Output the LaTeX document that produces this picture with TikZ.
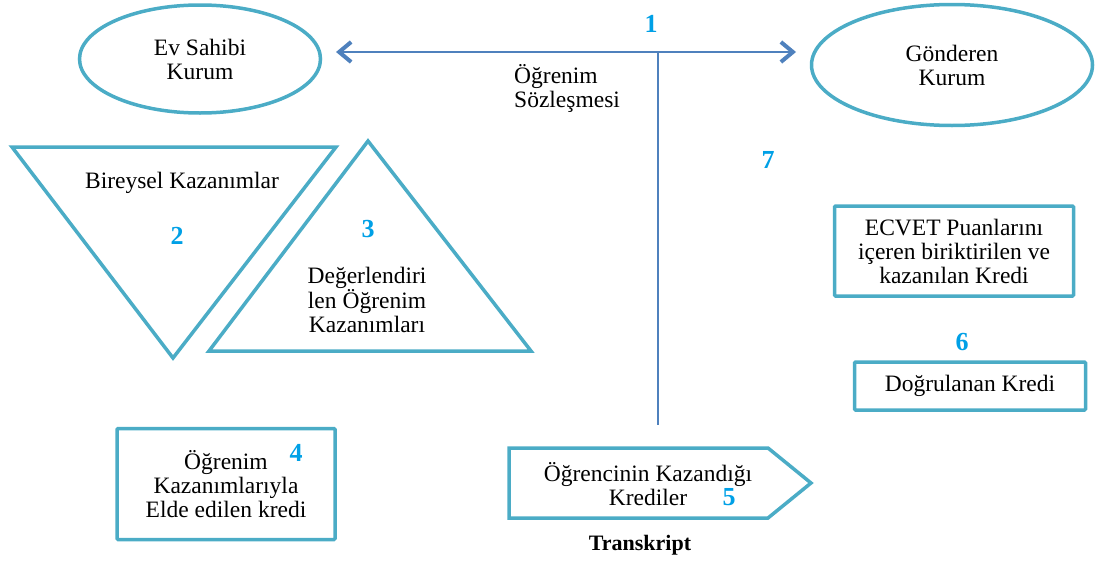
\documentclass[tikz,border=0pt]{standalone}
\usepackage{fontspec}
\setmainfont{Liberation Serif}
\usepackage{tikz}
\usetikzlibrary{shapes.geometric,arrows.meta}

\definecolor{kenar}{RGB}{75,172,198}
\definecolor{okrenk}{RGB}{79,129,189}
\definecolor{sayirenk}{RGB}{0,160,230}

\begin{document}
\begin{tikzpicture}[x=1pt,y=-1pt,line join=miter,
   metin/.style={font=\fontsize{23.5}{24}\selectfont,align=center,inner sep=0pt},
   kurum/.style={ellipse,draw=kenar,line width=3.5pt,metin},
   kutu/.style={rectangle,draw=kenar,line width=3.5pt,rounded corners=1pt,metin},
   sekil/.style={draw=kenar,line width=3.5pt},
   sayi/.style={font=\bfseries\fontsize{26}{26}\selectfont,text=sayirenk,inner sep=0pt},
   ucu/.tip={Straight Barb[length=12pt,width=20pt,line width=4pt]},
   ok/.style={draw=okrenk,line width=2.5pt}]
   \useasboundingbox (0,0) rectangle (1097,562);
   % kurumlar ve ogrenim sozlesmesi
   \node[kurum,minimum width=241pt,minimum height=108pt] (ev_sahibi) at (200,59) {Ev Sahibi\\Kurum};
   \node[kurum,minimum width=281pt,minimum height=121pt] (gonderen) at (952,65) {Gönderen\\Kurum};
   \coordinate (ok_sol) at (336,52);
   \coordinate (ok_sag) at (796,52);
   \coordinate (dik_ust) at (658,52);
   \coordinate (dik_alt) at (658,425);
   \draw[ok,ucu-ucu] (ok_sol) -- (ok_sag);
   \draw[ok,line width=1.3pt] (dik_ust) -- (dik_alt);
   \node[metin,align=left,anchor=west] (sozlesme) at (514,88) {Öğrenim\\Sözleşmesi};
   % ucgenler
   \draw[sekil] (12,147) -- (336,147) -- (173,358) -- cycle;
   \draw[sekil] (368,141) -- (531,351) -- (209,351) -- cycle;
   \node[metin] (bireysel) at (182,183) {Bireysel Kazanımlar};
   \node[metin] (degerlendirilen) at (367,300) {Değerlendiri\\len Öğrenim\\Kazanımları};
   % krediler
   \node[kutu,minimum width=218pt,minimum height=111pt] (elde_edilen) at (226,484) {Öğrenim\\Kazanımlarıyla\\Elde edilen kredi};
   \node[kutu,minimum width=239pt,minimum height=90pt] (ecvet) at (954,251) {ECVET Puanlarını\\içeren biriktirilen ve\\kazanılan Kredi};
   \node[kutu,minimum width=231pt,minimum height=48pt] (dogrulanan) at (970,386) {Doğrulanan Kredi};
   \draw[sekil] (509,448) -- (768,448) -- (811,483) -- (768,518) -- (509,518) -- cycle;
   \node[metin] (ogrenci) at (648,484) {Öğrencinin Kazandığı\\Krediler};
   \node[metin,font=\bfseries\fontsize{22}{24}\selectfont] (transkript) at (640,545) {Transkript};
   % numaralar
   \foreach \n/\x/\y in {1/651/24,2/177/236,3/368/229,4/296/453,5/729/497,6/962/342,7/768/160}
      \node[sayi] (no_\n) at (\x,\y) {\n};
\end{tikzpicture}
\end{document}
